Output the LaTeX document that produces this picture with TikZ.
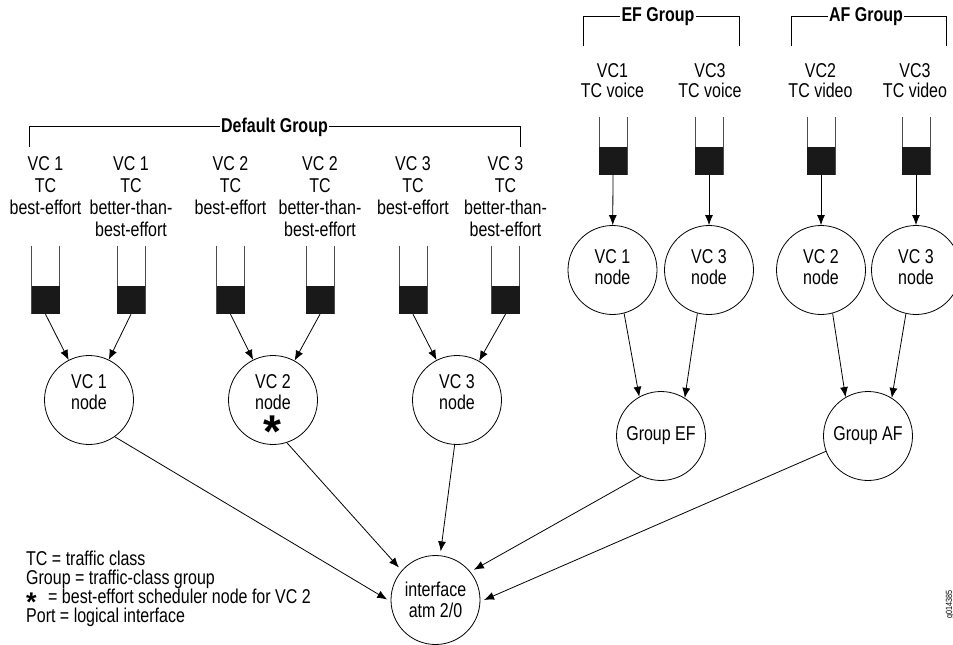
\documentclass[tikz,border=0pt]{standalone}
\usepackage{fontspec}
\setmainfont{Liberation Sans}[FakeStretch=0.8]
\newfontfamily\symfont{Liberation Sans}
\usetikzlibrary{arrows.meta}
\newcommand\qtube[4]{%
  \draw[tube] (#2-14,#3) -- (#2-14,#4+28) (#2+14,#3) -- (#2+14,#4+28);
  \node[qbox] (#1) at (#2,#4+14) {};
}
\begin{document}
\begin{tikzpicture}[x=1pt,y=-1pt,
  every node/.style={font=\fontsize{20}{18.5}\selectfont, inner sep=0pt},
  lbl/.style={align=center, anchor=north, font=\fontsize{20}{22}\selectfont},
  lblr/.style={align=center, anchor=north, font=\fontsize{20}{20}\selectfont},
  vc/.style={circle, draw, line width=0.8pt, minimum size=89pt, inner sep=0pt, align=center, font=\fontsize{20}{20.5}\selectfont},
  ctext/.style={align=center, font=\fontsize{20}{20.5}\selectfont},
  qbox/.style={fill=black!90, minimum width=28pt, minimum height=28pt, inner sep=0pt},
  tube/.style={draw=black!70, line width=1pt},
  arr/.style={-{Latex[length=10pt,width=8pt]}, line width=0.8pt},
  grp/.style={font=\fontsize{20}{20}\selectfont\bfseries, anchor=base, inner xsep=1pt},
  legline/.style={anchor=base west, font=\fontsize{20}{20}\selectfont},
  brk/.style={line width=0.8pt}]
\useasboundingbox (0,0) rectangle (953,645);
\clip (0,0) rectangle (953,645);

% ---- group brackets
\node[grp] (dg) at (274.5,132) {Default Group};
\draw[brk] (29,147) |- (dg.west);
\draw[brk] (520,147) |- (dg.east);
\node[grp] (efg) at (658,21.5) {EF Group};
\draw[brk] (583,46) |- (efg.west);
\draw[brk] (739,46) |- (efg.east);
\node[grp] (afg) at (866,21.5) {AF Group};
\draw[brk] (791,46) |- (afg.west);
\draw[brk] (946,46) |- (afg.east);

% ---- default group labels
\node[lbl] (t1) at (45.5,156) {VC 1\\TC\\best-effort};
\node[lbl] (t2) at (131,156) {VC 1\\TC\\better-than-\\best-effort};
\node[lbl] (t3) at (230.5,156) {VC 2\\TC\\best-effort};
\node[lbl] (t4) at (320,156) {VC 2\\TC\\better-than-\\best-effort};
\node[lbl] (t5) at (413,156) {VC 3\\TC\\best-effort};
\node[lbl] (t6) at (505.5,156) {VC 3\\TC\\better-than-\\best-effort};

% ---- EF / AF labels
\node[lblr] (t7) at (612.5,63) {VC1\\TC voice};
\node[lblr] (t8) at (710,63) {VC3\\TC voice};
\node[lblr] (t9) at (820.5,63) {VC2\\TC video};
\node[lblr] (t10) at (915,63) {VC3\\TC video};

% ---- queues
\qtube{q1}{45.5}{246}{286}
\qtube{q2}{131}{246}{286}
\qtube{q3}{230.5}{246}{286}
\qtube{q4}{320}{246}{286}
\qtube{q5}{413}{246}{286}
\qtube{q6}{505.5}{246}{286}
\qtube{q7}{613}{117}{147}
\qtube{q8}{709}{117}{147}
\qtube{q9}{821}{117}{147}
\qtube{q10}{916}{117}{147}

% ---- scheduler nodes
\node[vc] (c1) at (89,400) {};
\node[ctext] (c1t) at (89,392) {VC 1\\node};
\node[vc] (c2) at (273,400) {};
\node[ctext] (c2t) at (273,392) {VC 2\\node};
\node[vc] (c3) at (457,400) {};
\node[ctext] (c3t) at (457,392) {VC 3\\node};
\node[anchor=base] (st) at (272,447) {\symfont\fontsize{46}{46}\selectfont\bfseries *};
\node[vc] (ev1) at (612.5,270) {};
\node[ctext] (ev1t) at (612.5,267) {VC 1\\node};
\node[vc] (ev3) at (709,270) {};
\node[ctext] (ev3t) at (709,267) {VC 3\\node};
\node[vc] (av2) at (821,270) {};
\node[ctext] (av2t) at (821,267) {VC 2\\node};
\node[vc] (av3) at (916,270) {};
\node[ctext] (av3t) at (916,267) {VC 3\\node};
\node[vc] (gef) at (661,436) {Group EF};
\node[vc] (gaf) at (868,436) {Group AF};
\node[vc] (iface) at (435.5,600) {interface\\atm 2/0};

% ---- connectors
\draw[arr] (q1.south) -- (c1);
\draw[arr] (q2.south) -- (c1);
\draw[arr] (q3.south) -- (c2);
\draw[arr] (q4.south) -- (c2);
\draw[arr] (q5.south) -- (c3);
\draw[arr] (q6.south) -- (c3);
\draw[arr] (q7.south) -- (ev1);
\draw[arr] (q8.south) -- (ev3);
\draw[arr] (q9.south) -- (av2);
\draw[arr] (q10.south) -- (av3);
\draw[arr] (ev1.-75) -- (gef.119);
\draw[arr] (ev3.-105) -- (gef.58);
\draw[arr] (av2.-75) -- (gaf.120);
\draw[arr] (av3.-103) -- (gaf.58);
\draw[arr, shorten >=4pt] (c1.-55) -- (iface.182);
\draw[arr, shorten >=4pt] (c2.-72) -- (iface.139);
\draw[arr, shorten >=4pt] (c3.-93) -- (iface.84);
\draw[arr, shorten >=4pt] (gef.-117) -- (iface.39);
\draw[arr, shorten >=4pt] (gaf.200) -- (iface.-2);

% ---- legend
\node[legline] (leg1) at (26,565) {TC = traffic class};
\node[legline] (leg2) at (26,584) {Group = traffic-class group};
\node[legline] (legst) at (26,603) {\smash{\raisebox{-8pt}{\symfont\fontsize{27}{27}\selectfont\bfseries *}}};
\node[legline] (leg3) at (48,603) {= best-effort scheduler node for VC 2};
\node[legline] (leg4) at (26,622) {Port = logical interface};

% ---- figure id
\node[rotate=90, font=\fontsize{9}{9}\selectfont] (fig) at (950,604) {g014385};
\end{tikzpicture}
\end{document}
